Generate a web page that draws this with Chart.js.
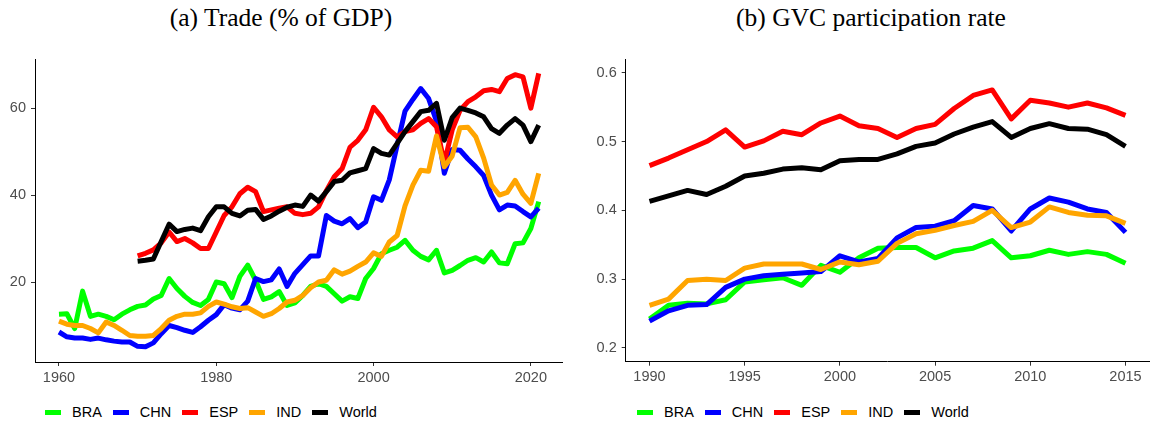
<!DOCTYPE html>
<html>
<head>
<meta charset="utf-8">
<script src="https://cdn.jsdelivr.net/npm/chart.js@4.4.1/dist/chart.umd.min.js"></script>
<style>
  body { margin: 0; background: #fff; width: 1151px; height: 426px; overflow: hidden; position: relative; }
  .titulo { position: absolute; top: 3px; font-family: "Liberation Serif", serif; font-size: 25.5px; line-height: 30px; color: #000; transform: translateX(-50%); white-space: nowrap; }
  .panel { position: absolute; top: 0; height: 395px; }
  .leyenda { position: absolute; top: 404px; display: flex; align-items: center; font-family: "Liberation Sans", Arial, sans-serif; font-size: 14.5px; color: #000; }
  .item { display: flex; align-items: center; margin-right: 11px; }
  .clave { width: 16px; height: 5px; margin-right: 11px; }
</style>
</head>
<body>
<div class="titulo" style="left:281px">(a) Trade (% of GDP)</div>
<div class="titulo" style="left:871px">(b) GVC participation rate</div>

<div class="panel" style="left:0; width:575px"><canvas id="graficoComercio" width="575" height="395"></canvas></div>
<div class="panel" style="left:575px; width:576px"><canvas id="graficoGvc" width="576" height="395"></canvas></div>

<div class="leyenda" id="leyendaComercio" style="left:45px"></div>
<div class="leyenda" id="leyendaGvc" style="left:637px"></div>

<script>
// Series y colores
const paises = ['BRA', 'CHN', 'ESP', 'IND', 'World'];
const colores = ['#00ff00', '#0000ff', '#ff0000', '#ffa500', '#000000'];

// (a) Comercio (% del PIB), 1960-2021
const aniosComercio = [1960, 1961, 1962, 1963, 1964, 1965, 1966, 1967, 1968, 1969,
  1970, 1971, 1972, 1973, 1974, 1975, 1976, 1977, 1978, 1979,
  1980, 1981, 1982, 1983, 1984, 1985, 1986, 1987, 1988, 1989,
  1990, 1991, 1992, 1993, 1994, 1995, 1996, 1997, 1998, 1999,
  2000, 2001, 2002, 2003, 2004, 2005, 2006, 2007, 2008, 2009,
  2010, 2011, 2012, 2013, 2014, 2015, 2016, 2017, 2018, 2019,
  2020, 2021];
const braComercio = [12.6, 12.7, 9.3, 17.9, 12.1, 12.6, 12.1, 11.3, 12.6, 13.6,
  14.4, 14.7, 16.1, 16.9, 20.8, 18.5, 16.7, 15.3, 14.6, 16.0,
  20.0, 19.6, 16.4, 21.3, 23.9, 20.4, 16.0, 16.6, 17.8, 14.6,
  15.2, 16.9, 19.0, 19.6, 19.0, 17.3, 15.6, 16.6, 16.2, 20.8,
  23.1, 26.5, 27.3, 28.0, 29.6, 27.3, 25.9, 25.1, 27.3, 22.1,
  22.7, 23.8, 25.0, 25.6, 24.6, 26.9, 24.4, 24.2, 28.8, 29.0,
  32.3, 38.5];
const chnComercio = [8.5, 7.4, 7.1, 7.1, 6.8, 7.1, 6.7, 6.4, 6.2, 6.2,
  5.2, 5.1, 6.0, 8.1, 10.0, 9.5, 8.9, 8.4, 9.7, 11.2,
  12.5, 14.8, 14.0, 13.6, 15.6, 20.8, 20.1, 20.5, 23.0, 19.0,
  22.0, 24.0, 26.0, 26.0, 35.3, 34.0, 33.4, 34.6, 32.5, 33.8,
  39.6, 38.8, 43.5, 51.5, 59.3, 62.0, 64.5, 62.2, 57.0, 45.0,
  50.5, 50.3, 48.3, 46.5, 44.5, 40.0, 36.6, 37.7, 37.5, 36.2,
  35.0, 37.0];
const espComercio = [null, null, null, null, null, null, null, null, null, null,
  26.0, 26.6, 27.4, 29.0, 31.5, 29.3, 30.0, 29.0, 27.7, 27.7,
  31.5, 35.3, 37.3, 40.3, 41.8, 40.8, 36.2, 36.6, 37.0, 37.3,
  35.8, 35.5, 35.8, 37.3, 41.0, 44.2, 46.1, 51.0, 52.6, 55.0,
  60.2, 58.0, 55.0, 53.4, 54.6, 55.0, 56.5, 57.6, 55.7, 47.5,
  55.0, 59.5, 61.5, 62.6, 64.0, 64.3, 63.8, 66.8, 67.7, 67.2,
  60.0, 68.0];
const indComercio = [11.0, 10.3, 10.0, 10.0, 9.3, 8.3, 10.8, 10.0, 8.9, 7.7,
  7.5, 7.5, 7.7, 9.3, 11.2, 12.1, 12.6, 12.6, 12.9, 14.4,
  15.4, 14.9, 14.3, 13.9, 14.1, 13.1, 12.1, 12.7, 13.9, 15.4,
  15.8, 16.9, 18.7, 20.0, 20.4, 22.8, 21.8, 22.5, 23.6, 24.6,
  26.7, 25.9, 29.2, 30.7, 37.5, 42.3, 45.7, 45.5, 53.6, 46.5,
  49.0, 55.5, 55.6, 53.4, 48.5, 42.3, 40.0, 40.6, 43.4, 40.2,
  38.1, 45.0];
const mundoComercio = [null, null, null, null, null, null, null, null, null, null,
  24.8, 25.0, 25.3, 29.3, 33.3, 31.6, 32.1, 32.4, 31.8, 35.0,
  37.3, 37.3, 35.8, 35.2, 36.5, 36.7, 34.4, 35.2, 36.3, 37.2,
  37.7, 37.4, 40.0, 38.6, 40.8, 43.1, 43.4, 45.1, 45.6, 46.1,
  50.7, 49.6, 49.2, 51.9, 54.6, 56.9, 59.2, 59.5, 61.1, 52.6,
  57.8, 60.0, 59.5, 58.9, 58.0, 55.3, 54.2, 56.1, 57.6, 56.1,
  52.3, 56.1];
const ticksXComercio = [1960, 1980, 2000, 2020];
const ticksYComercio = [20, 40, 60];

// (b) Tasa de participación en CGV, 1990-2015
const aniosGvc = [1990, 1991, 1992, 1993, 1994, 1995, 1996, 1997, 1998, 1999,
  2000, 2001, 2002, 2003, 2004, 2005, 2006, 2007, 2008, 2009,
  2010, 2011, 2012, 2013, 2014, 2015];
const braGvc = [0.242, 0.262, 0.265, 0.264, 0.270, 0.296, 0.299, 0.302, 0.291, 0.320,
  0.310, 0.331, 0.345, 0.346, 0.346, 0.331, 0.341, 0.345, 0.356, 0.331,
  0.334, 0.342, 0.336, 0.340, 0.336, 0.323];
const chnGvc = [0.239, 0.254, 0.262, 0.263, 0.288, 0.300, 0.305, 0.307, 0.309, 0.311,
  0.334, 0.325, 0.330, 0.360, 0.375, 0.377, 0.385, 0.407, 0.402, 0.370,
  0.402, 0.418, 0.412, 0.402, 0.397, 0.368];
const espGvc = [0.465, 0.476, 0.488, 0.500, 0.517, 0.492, 0.501, 0.515, 0.510, 0.527,
  0.537, 0.523, 0.519, 0.506, 0.519, 0.525, 0.548, 0.567, 0.575, 0.533,
  0.560, 0.556, 0.550, 0.556, 0.549, 0.538];
const indGvc = [0.262, 0.271, 0.298, 0.300, 0.298, 0.316, 0.322, 0.322, 0.322, 0.314,
  0.325, 0.321, 0.326, 0.352, 0.366, 0.371, 0.378, 0.384, 0.400, 0.375,
  0.383, 0.405, 0.397, 0.393, 0.392, 0.381];
const mundoGvc = [0.413, 0.421, 0.429, 0.423, 0.435, 0.450, 0.454, 0.460, 0.462, 0.459,
  0.472, 0.474, 0.474, 0.482, 0.493, 0.498, 0.511, 0.521, 0.529, 0.506,
  0.519, 0.526, 0.519, 0.518, 0.510, 0.493];
const ticksXGvc = [1990, 1995, 2000, 2005, 2010, 2015];
const ticksYGvc = [0.2, 0.3, 0.4, 0.5, 0.6];

Chart.defaults.font.family = "'Liberation Sans', Arial, sans-serif";
Chart.defaults.font.size = 14.5;
Chart.defaults.color = '#4d4d4d';

// Arma los datasets; World queda encima (se dibuja al final)
function crearSeries(anios, listas) {
  return listas.map((datos, i) => ({
    label: paises[i],
    data: anios.map((a, j) => ({ x: a, y: datos[j] })),
    borderColor: colores[i],
    backgroundColor: colores[i],
    borderWidth: 5,
    borderJoinStyle: 'round',
    pointRadius: 0,
    tension: 0,
    order: listas.length - i
  }));
}

// Opciones de un eje con estilo de ggplot classic
function eje(min, max, ticks, formato, tamanio, esX) {
  return {
    type: 'linear',
    min: min,
    max: max,
    afterBuildTicks: s => { s.ticks = ticks.map(v => ({ value: v })); },
    afterFit: s => { if (esX) s.height = tamanio; else s.width = tamanio; },
    grid: { display: true, drawOnChartArea: false, drawTicks: true, tickLength: 4, tickColor: '#333333', tickWidth: 1 },
    border: { display: true, color: '#000000', width: 1 },
    ticks: { color: '#4d4d4d', padding: esX ? 3 : 5, autoSkip: false, maxRotation: 0, callback: formato }
  };
}

function crearGrafico(id, anios, listas, ejeX, ejeY, relleno) {
  const ctx = document.getElementById(id).getContext('2d');
  return new Chart(ctx, {
    type: 'line',
    data: { datasets: crearSeries(anios, listas) },
    options: {
      responsive: false,
      animation: false,
      layout: { padding: relleno },
      plugins: { legend: { display: false }, tooltip: { enabled: false } },
      scales: { x: ejeX, y: ejeY }
    }
  });
}

// Leyenda en HTML debajo de cada panel
function crearLeyenda(id) {
  const caja = document.getElementById(id);
  paises.forEach((p, i) => {
    const item = document.createElement('div');
    item.className = 'item';
    const clave = document.createElement('span');
    clave.className = 'clave';
    clave.style.background = colores[i];
    const texto = document.createElement('span');
    texto.textContent = p;
    item.appendChild(clave);
    item.appendChild(texto);
    caja.appendChild(item);
  });
}

crearGrafico('graficoComercio', aniosComercio,
  [braComercio, chnComercio, espComercio, indComercio, mundoComercio],
  eje(1956.95, 2024.05, ticksXComercio, v => String(v), 20, true),
  eje(1.6, 71.3, ticksYComercio, v => String(v), 35, false),
  { left: 0, top: 59, right: 12.3, bottom: 13 });

crearGrafico('graficoGvc', aniosGvc,
  [braGvc, chnGvc, espGvc, indGvc, mundoGvc],
  eje(1988.75, 2016.25, ticksXGvc, v => String(v), 20, true),
  eje(0.18, 0.62, ticksYGvc, v => v.toFixed(1), 50.7, false),
  { left: 0, top: 59, right: 1.7, bottom: 13.3 });

crearLeyenda('leyendaComercio');
crearLeyenda('leyendaGvc');
</script>
</body>
</html>
